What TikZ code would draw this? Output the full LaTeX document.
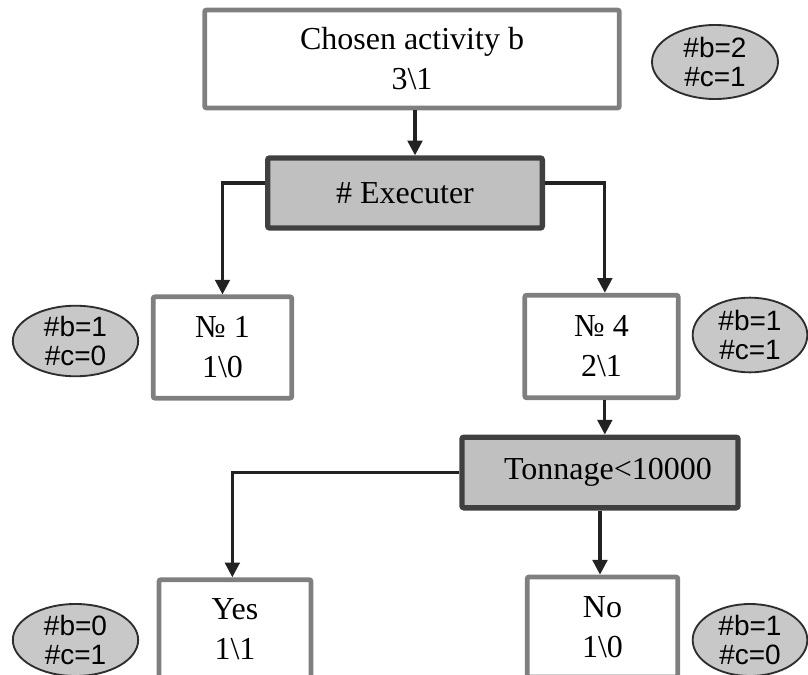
\documentclass[tikz,border=0pt]{standalone}
\usepackage{fontspec}
\setmainfont{Liberation Serif}
\newfontfamily\ellfont{Liberation Sans}
\usetikzlibrary{arrows.meta,shapes.geometric}
\definecolor{boxline}{HTML}{7F7F7F}
\definecolor{decline}{HTML}{404040}
\definecolor{decfill}{HTML}{C0C0C0}
\definecolor{ellfill}{HTML}{C8C8C8}
\definecolor{ellline}{HTML}{2E2E2E}
\definecolor{arrline}{HTML}{222222}
\tikzset{
  valbox/.style={draw=boxline, line width=3.6pt, rounded corners=1.5pt, fill=white,
    align=center, inner sep=0pt, font=\fontsize{24}{30}\selectfont},
  decbox/.style={draw=decline, line width=4pt, rounded corners=1.5pt, fill=decfill,
    align=center, inner sep=0pt, font=\fontsize{24}{30}\selectfont},
  countell/.style={ellipse, draw=ellline, line width=1.4pt, fill=ellfill,
    align=center, inner sep=0pt, font=\ellfont\fontsize{21}{22}\selectfont},
  arr/.style={draw=arrline, line width=2.3pt, -{Triangle[width=11pt,length=11pt]}}
}
\begin{document}
\begin{tikzpicture}[x=0.75pt,y=-0.75pt]
\useasboundingbox (0,0) rectangle (808,675);

% tree nodes
\node[valbox, minimum width=311pt, minimum height=73.5pt] (top) at (412,59) {Chosen activity b\\3\textbackslash 1};
\node[decbox, minimum width=206pt, minimum height=52.5pt] (exec) at (405,193) {\# Executer};
\node[valbox, minimum width=104pt, minimum height=76pt] (n1) at (222.5,347.5) {№ 1\\1\textbackslash 0};
\node[valbox, minimum width=115pt, minimum height=77pt] (n4) at (601.5,346.5) {№ 4\\2\textbackslash 1};
\node[decbox, minimum width=207pt, minimum height=53pt, text width=207pt] (ton) at (600,472.5) {\hspace*{12pt}Tonnage<10000};
\node[valbox, minimum width=114pt, minimum height=74pt] (yes) at (235,629) {Yes\\1\textbackslash 1};
\node[valbox, minimum width=113pt, minimum height=75pt] (no) at (602.5,627) {No\\1\textbackslash 0};

% counters
\node[countell, minimum width=94.5pt, minimum height=55.5pt] (e0) at (715,62) {\#b=2\\\#c=1};
\node[countell, minimum width=94pt, minimum height=52pt] (e1) at (75.5,341) {\#b=1\\\#c=0};
\node[countell, minimum width=86pt, minimum height=56pt] (e4) at (750,335) {\#b=1\\\#c=1};
\node[countell, minimum width=94pt, minimum height=54pt] (ey) at (75.5,640) {\#b=0\\\#c=1};
\node[countell, minimum width=86pt, minimum height=54pt] (en) at (750,640) {\#b=1\\\#c=0};

% connectors
\draw[arr] (top.south -| 415,0) -- (exec.north -| 415,0);
\draw[arr] ([yshift=7.5pt]exec.west) -| (n1.north);
\draw[arr] ([yshift=7.5pt]exec.east) -| ([xshift=2.5pt]n4.north);
\draw[arr] ([xshift=2.5pt]n4.south) -- ([xshift=2.5pt]n4.south |- ton.north);
\draw[arr] (ton.west) -| ([xshift=-2pt]yes.north);
\draw[arr] (ton.south) -- (ton.south |- no.north);
\end{tikzpicture}
\end{document}
